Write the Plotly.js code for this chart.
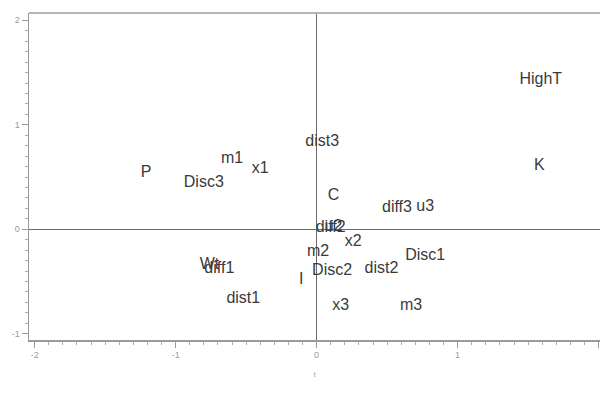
<!DOCTYPE html>
<html>
<head>
<meta charset="utf-8">
<script src="https://cdn.plot.ly/plotly-3.0.1.min.js"></script>
<style>
html,body{margin:0;padding:0;background:#fff;}
#chart{width:600px;height:402px;}
</style>
</head>
<body>
<div id="chart"></div>
<script>
var labels = ["HighT","K","P","Disc3","m1","x1","dist3","C","diff3","u3","diff2","u2","x2","m2","Disc1","dist2","Disc2","I","Wt","diff1","dist1","x3","m3"];
var xVals  = [1.59, 1.58, -1.21, -0.80, -0.60, -0.40, 0.04, 0.12, 0.57, 0.77, 0.10, 0.12, 0.26, 0.01, 0.77, 0.46, 0.11, -0.11, -0.76, -0.69, -0.52, 0.17, 0.67];
var yVals  = [1.43, 0.61, 0.54, 0.44, 0.67, 0.58, 0.84, 0.32, 0.20, 0.21, 0.01, 0.02, -0.12, -0.22, -0.26, -0.38, -0.40, -0.49, -0.34, -0.38, -0.67, -0.73, -0.73];
var xTicks = [-2, -1, 0, 1, 2];
var yTicks = [-1, 0, 1, 2];

var trace = {
  type: 'scatter',
  mode: 'text',
  x: xVals,
  y: yVals,
  text: labels,
  textposition: 'middle center',
  textfont: {family: 'Liberation Sans, Arial, sans-serif', size: 16, color: '#3a3a3a'},
  hoverinfo: 'none',
  showlegend: false
};

var axisCommon = {
  showgrid: false,
  zeroline: true,
  zerolinecolor: '#6a6a6a',
  zerolinewidth: 1.3,
  showline: true,
  linecolor: '#9a9a9a',
  linewidth: 1.5,
  ticks: 'outside',
  ticklen: 6,
  tickcolor: '#9a9a9a',
  tickwidth: 1,
  tickfont: {family: 'Liberation Sans, Arial, sans-serif', size: 9, color: '#9a9a9a'},
  tickmode: 'array',
  minor: {dtick: 0.1, ticks: 'outside', ticklen: 3, tickcolor: '#aaaaaa', tickwidth: 1, showgrid: false},
  fixedrange: true
};

var layout = {
  width: 600,
  height: 402,
  margin: {l: 29, r: 0, t: 13, b: 62},
  paper_bgcolor: '#ffffff',
  plot_bgcolor: '#ffffff',
  xaxis: Object.assign({}, axisCommon, {
    range: [-2.04, 2.01],
    tickvals: xTicks,
    ticktext: xTicks.map(String),
    title: {text: 't', font: {family: 'Liberation Sans, Arial, sans-serif', size: 8, color: '#aaaaaa'}, standoff: 12}
  }),
  yaxis: Object.assign({}, axisCommon, {
    range: [-1.06, 2.07],
    tickvals: yTicks,
    ticktext: yTicks.map(String)
  }),
  shapes: [
    {type: 'line', xref: 'paper', yref: 'paper', x0: 0, x1: 1, y0: 1, y1: 1,
     line: {color: '#b5b5b5', width: 2}}
  ]
};

Plotly.newPlot('chart', [trace], layout, {staticPlot: true, displayModeBar: false});
</script>
</body>
</html>
